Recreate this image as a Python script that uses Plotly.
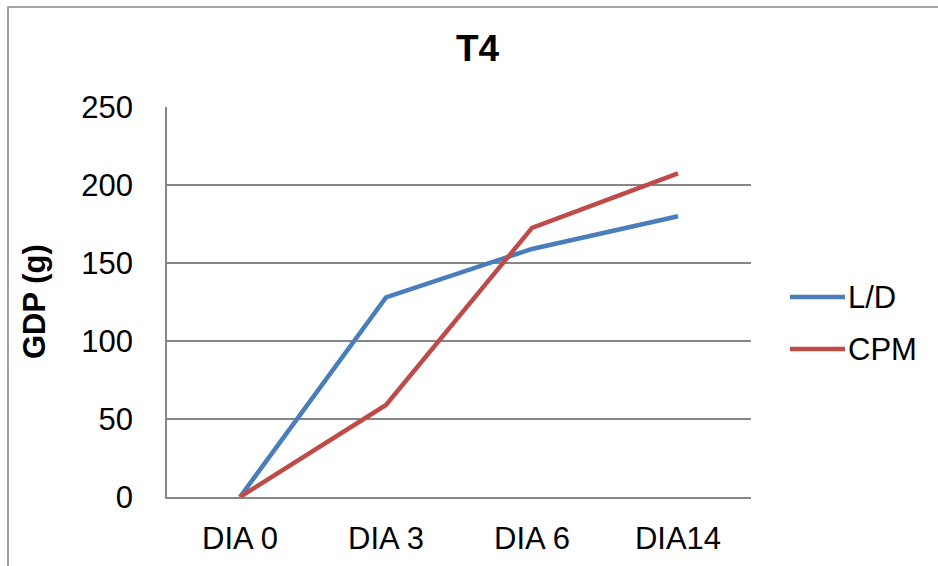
import plotly.graph_objects as go

# Days of measurement and weight gain (g) per treatment
categories = ["DIA 0", "DIA 3", "DIA 6", "DIA14"]
ld_values = [0, 128, 159, 180]
cpm_values = [0, 59, 172.5, 207.5]
y_ticks = [0, 50, 100, 150, 200, 250]

BLUE = "#4A7EBB"
RED = "#BE4B48"
GRID = "#868686"
FONT = "Liberation Sans, Arial, sans-serif"

fig = go.Figure()
fig.add_trace(go.Scatter(x=categories, y=ld_values, mode="lines", name="L/D",
                         line=dict(color=BLUE, width=4.5), showlegend=False))
fig.add_trace(go.Scatter(x=categories, y=cpm_values, mode="lines", name="CPM",
                         line=dict(color=RED, width=4.5), showlegend=False))

L, R, T, B = 167, 187, 107, 69
W, H = 938, 566
pw, ph = W - L - R, H - T - B


def px_x(px):
    return (px - L) / pw


def px_y(py):
    return (H - B - py) / ph


# Legend drawn as line samples with labels to the right of the plot
for i, (name, color) in enumerate([("L/D", BLUE), ("CPM", RED)]):
    yy = px_y(297 + 52 * i)
    fig.add_shape(type="line", xref="paper", yref="paper",
                  x0=px_x(790), x1=px_x(845), y0=yy, y1=yy,
                  line=dict(color=color, width=4.5))
    fig.add_annotation(text=name, xref="paper", yref="paper", x=px_x(846), y=yy,
                       xanchor="left", yanchor="middle", showarrow=False,
                       font=dict(family=FONT, size=31, color="black"))

# Outer chart border (clipped on the right and bottom)
fig.add_shape(type="rect", xref="paper", yref="paper",
              x0=px_x(8), x1=px_x(960), y0=px_y(590), y1=px_y(7),
              line=dict(color=GRID, width=1.5), layer="below")

# Axis title
fig.add_annotation(text="<b>GDP (g)</b>", xref="paper", yref="paper",
                   x=px_x(34), y=px_y(302), xanchor="center", yanchor="middle",
                   textangle=-90, showarrow=False,
                   font=dict(family=FONT, size=31, color="black"))

fig.update_layout(
    width=W, height=H,
    margin=dict(l=L, r=R, t=T, b=B, autoexpand=False),
    paper_bgcolor="white", plot_bgcolor="white",
    title=dict(text="<b>T4</b>", x=477.5 / W, xanchor="center",
               y=1 - 48.5 / H, yanchor="middle",
               font=dict(family=FONT, size=37, color="black")),
    font=dict(family=FONT, size=31, color="black"),
)
fig.update_xaxes(type="category", categoryorder="array", categoryarray=categories,
                 range=[-0.5, 3.5], showgrid=False, showline=True, linecolor=GRID,
                 linewidth=1.5, ticks="", ticklabelstandoff=13, automargin=False,
                 tickfont=dict(family=FONT, size=31, color="black"))
fig.update_yaxes(range=[0, 250], tickvals=y_ticks, showgrid=True, gridcolor=GRID,
                 gridwidth=1.5, showline=True, linecolor=GRID, linewidth=1.5,
                 ticks="", ticklabelstandoff=26, zeroline=False, automargin=False,
                 tickfont=dict(family=FONT, size=31, color="black"))

fig.write_html("out.html")
